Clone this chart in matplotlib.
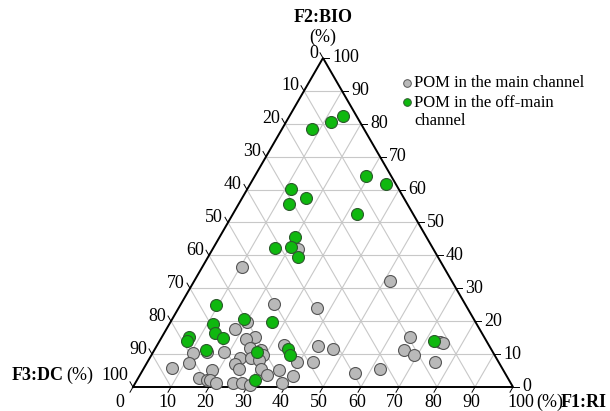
import matplotlib
matplotlib.use("Agg")
import matplotlib.pyplot as plt
import numpy as np
from matplotlib.transforms import offset_copy
from matplotlib.lines import Line2D

# ---------------- data (percent) ----------------
ri_main = [10.5, 22.6, 51.5, 24.5, 36.3, 20.0, 17.9, 24.5, 22.4, 24.8, 18.6, 10.7,
           11.2, 7.3, 23.8, 26.7, 23.3, 25.2, 18.1, 16.1, 18.3, 19.3, 21.4, 25.7,
           28.0, 30.5, 33.4, 28.2, 29.4, 29.1, 30.9, 35.7, 33.5, 40.5, 38.5, 39.2,
           42.5, 47.0, 43.6, 56.4, 62.3, 65.3, 65.7, 69.1, 75.6, 74.0, 74.8, 14.2]
bio_main = [36.6, 41.9, 32.3, 25.1, 24.1, 19.8, 17.7, 15.3, 14.5, 11.9, 10.5, 10.2,
            7.2, 5.7, 8.7, 8.7, 7.0, 5.5, 5.2, 2.6, 2.1, 2.0, 1.1, 1.1,
            1.3, 0.6, 12.8, 11.2, 9.7, 8.2, 5.5, 5.2, 3.6, 3.3, 1.3, 7.7,
            12.5, 11.5, 7.7, 4.3, 5.5, 15.1, 11.2, 9.8, 7.7, 13.6, 13.3, 10.6]
dc_main = [52.9, 35.5, 16.2, 50.4, 39.6, 60.2, 64.4, 60.2, 63.1, 63.3, 70.9, 79.1,
           81.6, 87.0, 67.5, 64.6, 69.7, 69.3, 76.7, 81.3, 79.6, 78.7, 77.5, 73.2,
           70.7, 68.9, 53.8, 60.6, 60.9, 62.7, 63.6, 59.1, 62.9, 56.2, 60.2, 53.1,
           45.0, 41.5, 48.7, 39.3, 32.2, 19.6, 23.1, 21.1, 16.7, 12.4, 11.9, 75.2]

ri_off = [14.1, 11.7, 7.8, 29.3, 35.7, 11.5, 16.8, 13.1, 32.7, 19.8, 16.3, 20.3,
          23.5, 9.3, 18.8, 26.8, 11.4, 13.4, 16.2, 7.2, 7.1, 13.7, 27.2, 35.1,
          36.5, 31.0, 72.2]
bio_off = [82.5, 80.6, 78.4, 64.0, 61.7, 60.1, 57.5, 55.7, 52.5, 45.7, 42.2, 42.6,
           39.6, 24.9, 20.8, 19.8, 19.2, 16.4, 15.0, 15.2, 14.1, 11.2, 10.7, 11.5,
           9.7, 2.1, 14.1]
dc_off = [3.4, 7.7, 13.8, 6.7, 2.6, 28.4, 25.7, 31.2, 14.8, 34.5, 41.5, 37.1,
          36.9, 65.8, 60.4, 53.4, 69.4, 70.2, 68.8, 77.6, 78.8, 75.1, 62.1, 53.4,
          53.8, 66.9, 13.7]

tick_values = list(range(0, 101, 10))
legend_labels = ["POM in the main channel", "POM in the off-main\nchannel"]

# ---------------- helpers ----------------
H = np.sqrt(3) / 2


def tern(ri, bio, dc):
    ri = np.asarray(ri, float)
    bio = np.asarray(bio, float)
    dc = np.asarray(dc, float)
    tot = ri + bio + dc
    r, b = ri / tot, bio / tot
    return r + b / 2, b * H


W, HH = 610, 411
fig = plt.figure(figsize=(W / 100, HH / 100), dpi=100)
ax = fig.add_axes([133 / W, (HH - 387) / HH, 380 / W, 329 / HH])
ax.set_xlim(0, 1)
ax.set_ylim(0, H)
ax.axis("off")

FONT = "Liberation Serif"
FS = 13
grid_c = "#c8c8c8"

# grid
for v in range(10, 100, 10):
    x, y = tern([0, 100 - v], [v, v], [100 - v, 0])
    ax.plot(x, y, color=grid_c, lw=0.8, zorder=1)
    x, y = tern([v, v], [0, 100 - v], [100 - v, 0])
    ax.plot(x, y, color=grid_c, lw=0.8, zorder=1)
    x, y = tern([100 - v, 0], [0, 100 - v], [v, v])
    ax.plot(x, y, color=grid_c, lw=0.8, zorder=1)

# triangle edges
x, y = tern([0, 100, 0, 0], [0, 0, 100, 0], [100, 0, 0, 100])
ax.plot(x, y, color="black", lw=1.4, zorder=3, solid_joinstyle="miter", clip_on=False)

# ticks and labels
tl = 6 / 380
for v in tick_values:
    # bottom: RI
    bx, by = tern(v, 0, 100 - v)
    ax.plot([bx, bx - 0.5 * tl], [by, by - H * tl], color="black", lw=0.7, clip_on=False)
    dx = -4
    if v == 0:
        dx = -13
    if v == 100:
        dx = 8
    tr = offset_copy(ax.transData, fig=fig, x=dx, y=-15, units="dots")
    ax.text(bx, by, str(v), transform=tr, ha="center", va="center",
            fontsize=FS, family=FONT)
    # right: BIO
    rx, ry = tern(100 - v, v, 0)
    ax.plot([rx, rx + tl], [ry, ry], color="black", lw=0.7, clip_on=False)
    tr = offset_copy(ax.transData, fig=fig, x=9, y=0 if v else 1, units="dots")
    ax.text(rx, ry, str(v), transform=tr, ha="left", va="center",
            fontsize=FS, family=FONT)
    # left: DC
    lx, ly = tern(0, 100 - v, v)
    ax.plot([lx, lx - 0.5 * tl], [ly, ly + H * tl], color="black", lw=0.7, clip_on=False)
    dy = 12 if v == 100 else 5
    tr = offset_copy(ax.transData, fig=fig, x=-5, y=dy, units="dots")
    ax.text(lx, ly, str(v), transform=tr, ha="right", va="center",
            fontsize=FS, family=FONT)

# points
xm, ym = tern(ri_main, bio_main, dc_main)
ax.scatter(xm, ym, s=74, c="#b9b9b9", edgecolors="#555555", linewidths=0.8,
           zorder=4, clip_on=False)
xo, yo = tern(ri_off, bio_off, dc_off)
ax.scatter(xo, yo, s=74, c="#0fb80f", edgecolors="#2c5a2c", linewidths=0.8,
           zorder=5, clip_on=False)


def ftext(px, py, s, size=FS, **kw):
    fig.text(px / W, 1 - py / HH, s, family=FONT, fontsize=size, **kw)


# axis titles
ftext(323, 18, "F2:BIO", ha="center", va="center", weight="bold")
ftext(323, 37, "(%)", ha="center", va="center")
ftext(64, 375, "F3:DC", ha="right", va="center", weight="bold")
ftext(66, 375, "(%)", ha="left", va="center")
ftext(563, 402, "(%)", ha="right", va="center")
ftext(607, 402, "F1:RI", ha="right", va="center", weight="bold")

# legend (manual)
fig.add_artist(Line2D([407 / W], [1 - 83 / HH], marker="o", markersize=5.5,
                      markerfacecolor="#b9b9b9", markeredgecolor="#555555",
                      markeredgewidth=0.7, transform=fig.transFigure))
fig.add_artist(Line2D([407 / W], [1 - 102 / HH], marker="o", markersize=5.5,
                      markerfacecolor="#0fb80f", markeredgecolor="#2c5a2c",
                      markeredgewidth=0.7, transform=fig.transFigure))
ftext(414, 83, legend_labels[0], size=12, ha="left", va="center")
ftext(414, 112, legend_labels[1], size=12, ha="left", va="center", linespacing=1.1)

fig.savefig("out.png", dpi=100)
